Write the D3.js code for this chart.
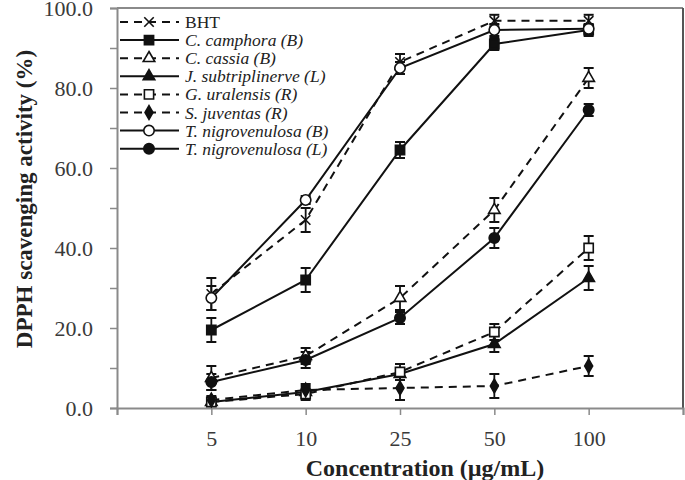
<!DOCTYPE html>
<html>
<head>
<meta charset="utf-8">
<script src="https://cdn.jsdelivr.net/npm/d3@7"></script>
<style>
  body { margin: 0; background: #fff; }
  svg { display: block; font-family: "Liberation Serif", "Times New Roman", serif; }
</style>
</head>
<body>
<div id="chart"></div>
<script>
// data
const concentrations = ["5", "10", "25", "50", "100"];
const seriesNames = ["BHT", "C. camphora (B)", "C. cassia (B)", "J. subtriplinerve (L)",
  "G. uralensis (R)", "S. juventas (R)", "T. nigrovenulosa (B)", "T. nigrovenulosa (L)"];

const bht = [28.5, 47, 86.5, 96.8, 96.8];
const camphora = [19.5, 32, 64.5, 91, 94.5];
const cassia = [7.5, 13, 27.5, 49.5, 82.5];
const subtriplinerve = [1.5, 4, 8.5, 16, 32.5];
const uralensis = [1.5, 3.5, 9, 19, 40];
const juventas = [2, 4.5, 5, 5.5, 10.5];
const nigroB = [27.5, 52, 85, 94.5, 94.8];
const nigroL = [6.5, 12, 22.5, 42.5, 74.5];

const bhtErr = [4, 3, 2, 1.5, 1.5];
const camphoraErr = [3, 3, 2, 1.5, 1.5];
const cassiaErr = [3, 2, 3, 3, 2.5];
const subtriplinerveErr = [1, 1.5, 1.5, 2, 3];
const uralensisErr = [1, 1.5, 2, 2, 3];
const juventasErr = [1, 1.5, 3, 3, 2.5];
const nigroBErr = [3, 1, 1.5, 1.5, 1];
const nigroLErr = [2, 2, 1.5, 2.5, 1.5];

const yTicks = [0, 20, 40, 60, 80, 100];

// series style: dashed?, symbol, open?
const series = [
  { name: seriesNames[0], v: bht, e: bhtErr, dash: true, sym: "x", open: false },
  { name: seriesNames[1], v: camphora, e: camphoraErr, dash: false, sym: "square", open: false },
  { name: seriesNames[2], v: cassia, e: cassiaErr, dash: true, sym: "triangle", open: true },
  { name: seriesNames[3], v: subtriplinerve, e: subtriplinerveErr, dash: false, sym: "triangle", open: false },
  { name: seriesNames[4], v: uralensis, e: uralensisErr, dash: true, sym: "square", open: true },
  { name: seriesNames[5], v: juventas, e: juventasErr, dash: true, sym: "diamond", open: false },
  { name: seriesNames[6], v: nigroB, e: nigroBErr, dash: false, sym: "circle", open: true },
  { name: seriesNames[7], v: nigroL, e: nigroLErr, dash: false, sym: "circle", open: false }
];

const width = 685, height = 480;
const margin = { top: 8, right: 2, bottom: 72, left: 117 };

const svg = d3.select("#chart").append("svg")
  .attr("width", width)
  .attr("height", height);

const x = d3.scaleLinear().domain([0, concentrations.length + 1]).range([margin.left, width - margin.right]);
const y = d3.scaleLinear().domain([0, 100]).range([height - margin.bottom, margin.top]);

const axisColor = "#8a8a8a";

// frame (top and right)
svg.append("line")
  .attr("x1", x(0)).attr("x2", x(6)).attr("y1", y(100)).attr("y2", y(100))
  .attr("stroke", axisColor).attr("stroke-width", 2);
svg.append("line")
  .attr("x1", x(6)).attr("x2", x(6)).attr("y1", y(100)).attr("y2", y(0))
  .attr("stroke", "#555").attr("stroke-width", 2);

// y axis
const yAxis = d3.axisLeft(y)
  .tickValues(d3.range(0, 101, 10))
  .tickSize(7)
  .tickPadding(17)
  .tickFormat(d => yTicks.includes(d) ? d.toFixed(1) : "");
const yAxisGroup = svg.append("g")
  .attr("transform", `translate(${x(0)},0)`)
  .call(yAxis);

// x axis
const xAxis = d3.axisBottom(x)
  .tickValues(d3.range(0, concentrations.length + 2))
  .tickSize(7)
  .tickPadding(15)
  .tickFormat(d => concentrations[d - 1] || "");
const xAxisGroup = svg.append("g")
  .attr("transform", `translate(0,${y(0)})`)
  .call(xAxis);

[yAxisGroup, xAxisGroup].forEach(g => {
  g.select(".domain").attr("stroke", axisColor).attr("stroke-width", 2);
  g.selectAll(".tick line").attr("stroke", axisColor).attr("stroke-width", 1.5);
  g.selectAll(".tick text")
    .attr("fill", "#3a3a3a")
    .style("font-family", "Liberation Serif")
    .style("font-size", "22px");
});

// axis titles
svg.append("text")
  .attr("x", 425)
  .attr("y", 476)
  .attr("text-anchor", "middle")
  .style("font-size", "24px")
  .style("font-weight", "bold")
  .attr("fill", "#222")
  .text("Concentration (µg/mL)");

svg.append("text")
  .attr("transform", "translate(32,199) rotate(-90)")
  .attr("text-anchor", "middle")
  .style("font-size", "23px")
  .style("font-weight", "bold")
  .attr("fill", "#222")
  .text("DPPH scavenging activity (%)");

// marker helper
const symbolTypes = {
  x: d3.symbolTimes || d3.symbolCross,
  square: d3.symbolSquare,
  triangle: d3.symbolTriangle,
  diamond: d3.symbolDiamond,
  circle: d3.symbolCircle
};
const symbolSizes = { x: 60, square: 85, triangle: 58, diamond: 55, circle: 85 };

function drawMarker(g, s, cx, cy) {
  const p = g.append("path")
    .attr("d", d3.symbol().type(symbolTypes[s.sym]).size(symbolSizes[s.sym])())
    .attr("transform", `translate(${cx},${cy})`)
    .attr("stroke", "#111")
    .attr("stroke-width", 1.6);
  if (s.sym === "x") p.attr("fill", "none");
  else p.attr("fill", s.open ? "#fff" : "#111");
}

const line = d3.line()
  .x((d, i) => x(i + 1))
  .y(d => y(d));

const plot = svg.append("g");

// lines
series.forEach(s => {
  plot.append("path")
    .datum(s.v)
    .attr("d", line)
    .attr("fill", "none")
    .attr("stroke", "#111")
    .attr("stroke-width", 2)
    .attr("stroke-dasharray", s.dash ? "8,6" : null);
});

// error bars
series.forEach(s => {
  const g = plot.append("g");
  s.v.forEach((v, i) => {
    const cx = x(i + 1);
    const lo = y(v - s.e[i]), hi = y(v + s.e[i]);
    g.append("line").attr("x1", cx).attr("x2", cx).attr("y1", lo).attr("y2", hi)
      .attr("stroke", "#111").attr("stroke-width", 1.8);
    [lo, hi].forEach(yy => {
      g.append("line").attr("x1", cx - 5).attr("x2", cx + 5).attr("y1", yy).attr("y2", yy)
        .attr("stroke", "#111").attr("stroke-width", 2);
    });
  });
});

// markers
series.forEach(s => {
  const g = plot.append("g");
  s.v.forEach((v, i) => drawMarker(g, s, x(i + 1), y(v)));
});

// legend
const legend = svg.append("g");
series.forEach((s, i) => {
  const ly = 22 + i * 18.1;
  legend.append("line")
    .attr("x1", 120).attr("x2", 179).attr("y1", ly).attr("y2", ly)
    .attr("stroke", "#111").attr("stroke-width", 2)
    .attr("stroke-dasharray", s.dash ? "8,6" : null);
  drawMarker(legend, s, 149, ly);
  legend.append("text")
    .attr("x", 185)
    .attr("y", ly + 6)
    .style("font-size", "17.5px")
    .style("font-style", i === 0 ? "normal" : "italic")
    .attr("fill", "#222")
    .text(s.name);
});
</script>
</body>
</html>
